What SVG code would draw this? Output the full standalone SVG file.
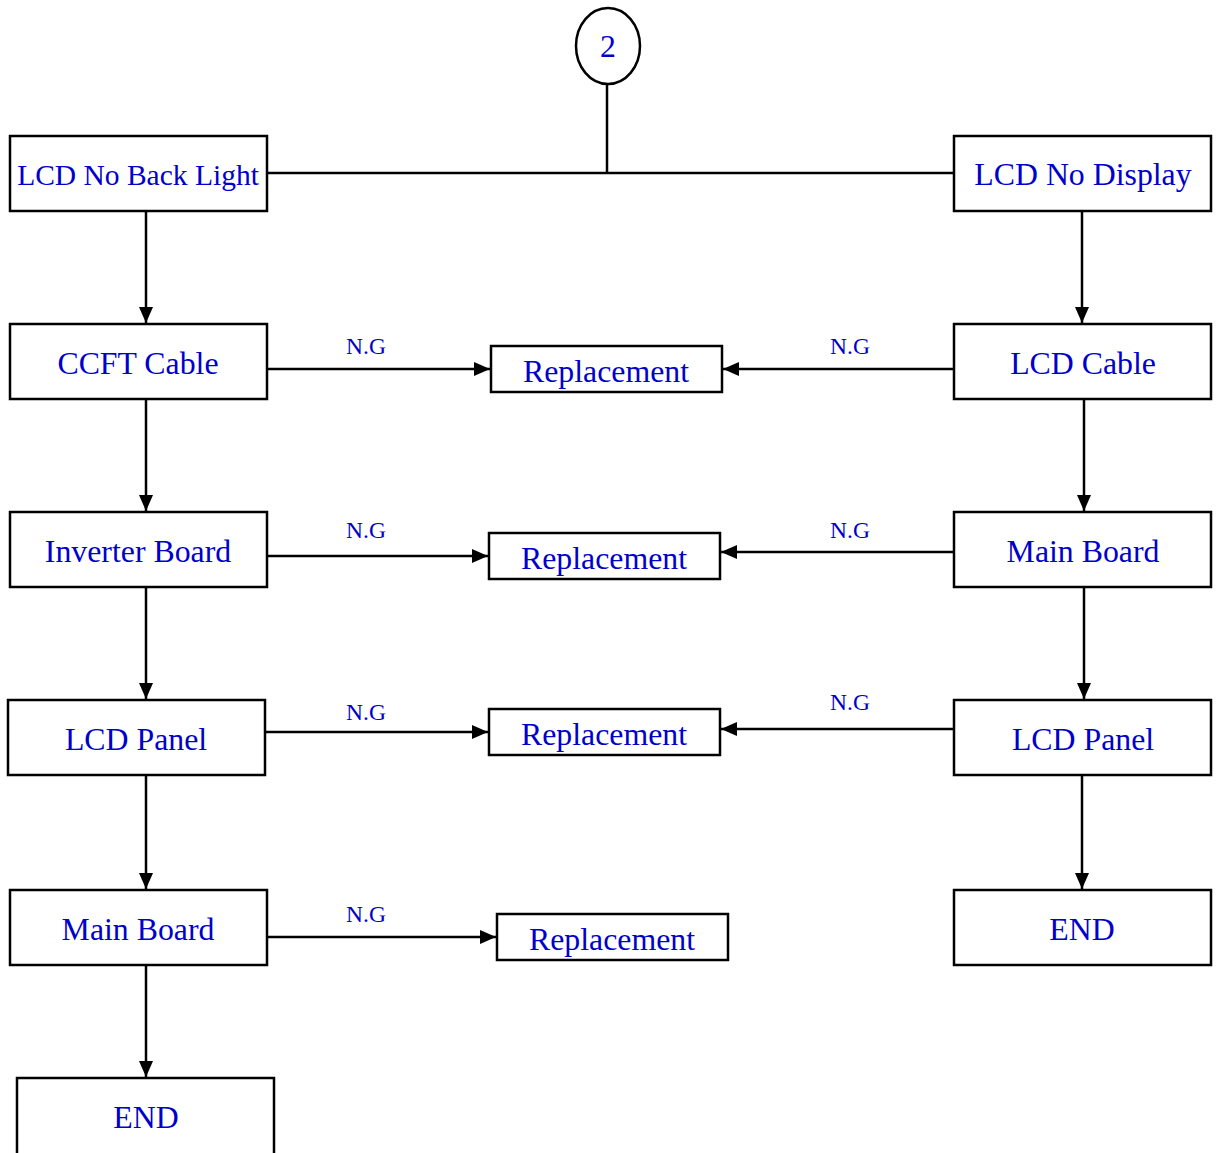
<svg xmlns="http://www.w3.org/2000/svg" width="1217" height="1153" viewBox="0 0 1217 1153">
<style>
.box{fill:#fff;stroke:#000;stroke-width:2.5}
.t{font-family:"Liberation Serif","Times New Roman",serif;font-size:31.8px;fill:#0000cc;text-anchor:middle}
.ng{font-family:"Liberation Serif","Times New Roman",serif;font-size:23.5px;fill:#0000cc;text-anchor:middle}
.c{stroke:#000;stroke-width:2.5;fill:none}
</style>
<defs>
<marker id="ah" markerUnits="userSpaceOnUse" markerWidth="16" markerHeight="14" viewBox="0 0 16 14" refX="16" refY="7" orient="auto">
<path d="M0,0 L16,7 L0,14 Z" fill="#000"/>
</marker>
</defs>
<rect width="1217" height="1153" fill="#fff"/>
<g id="connectors">
<line class="c" x1="607" y1="84" x2="607" y2="173"/>
<line class="c" x1="267" y1="173" x2="954" y2="173"/>
<line class="c" x1="146" y1="211" x2="146" y2="323" marker-end="url(#ah)"/>
<line class="c" x1="146" y1="399" x2="146" y2="511" marker-end="url(#ah)"/>
<line class="c" x1="146" y1="587" x2="146" y2="699" marker-end="url(#ah)"/>
<line class="c" x1="146" y1="775" x2="146" y2="889" marker-end="url(#ah)"/>
<line class="c" x1="146" y1="965" x2="146" y2="1077" marker-end="url(#ah)"/>
<line class="c" x1="1082" y1="211" x2="1082" y2="323" marker-end="url(#ah)"/>
<line class="c" x1="1084" y1="399" x2="1084" y2="511" marker-end="url(#ah)"/>
<line class="c" x1="1084" y1="587" x2="1084" y2="699" marker-end="url(#ah)"/>
<line class="c" x1="1082" y1="775" x2="1082" y2="889" marker-end="url(#ah)"/>
<line class="c" x1="267" y1="369" x2="490" y2="369" marker-end="url(#ah)"/>
<line class="c" x1="954" y1="369" x2="723" y2="369" marker-end="url(#ah)"/>
<line class="c" x1="267" y1="556" x2="488" y2="556" marker-end="url(#ah)"/>
<line class="c" x1="954" y1="552" x2="721" y2="552" marker-end="url(#ah)"/>
<line class="c" x1="265" y1="732" x2="488" y2="732" marker-end="url(#ah)"/>
<line class="c" x1="954" y1="729" x2="721" y2="729" marker-end="url(#ah)"/>
<line class="c" x1="267" y1="937" x2="496" y2="937" marker-end="url(#ah)"/>
<text class="ng" x="366" y="354">N.G</text>
<text class="ng" x="850" y="354">N.G</text>
<text class="ng" x="366" y="538">N.G</text>
<text class="ng" x="850" y="538">N.G</text>
<text class="ng" x="366" y="720">N.G</text>
<text class="ng" x="850" y="710">N.G</text>
<text class="ng" x="366" y="922">N.G</text>
</g>
<g id="start">
<ellipse cx="608" cy="46" rx="32" ry="38" fill="#fff" stroke="#000" stroke-width="2.5"/>
<text class="t" x="608" y="57">2</text>
</g>
<g id="lcd-no-back-light">
<rect class="box" x="10" y="136" width="257" height="75"/>
<text class="t" x="138" y="185" style="font-size:29.5px">LCD No Back Light</text>
</g>
<g id="lcd-no-display">
<rect class="box" x="954" y="136" width="257" height="75"/>
<text class="t" x="1083" y="185">LCD No Display</text>
</g>
<g id="ccft-cable">
<rect class="box" x="10" y="324" width="257" height="75"/>
<text class="t" x="138" y="374">CCFT Cable</text>
</g>
<g id="lcd-cable">
<rect class="box" x="954" y="324" width="257" height="75"/>
<text class="t" x="1083" y="374">LCD Cable</text>
</g>
<g id="replacement-1">
<rect class="box" x="491" y="346" width="231" height="46"/>
<text class="t" x="606" y="382">Replacement</text>
</g>
<g id="inverter-board">
<rect class="box" x="10" y="512" width="257" height="75"/>
<text class="t" x="138" y="562">Inverter Board</text>
</g>
<g id="main-board-right">
<rect class="box" x="954" y="512" width="257" height="75"/>
<text class="t" x="1083" y="562">Main Board</text>
</g>
<g id="replacement-2">
<rect class="box" x="489" y="533" width="231" height="46"/>
<text class="t" x="604" y="569">Replacement</text>
</g>
<g id="lcd-panel-left">
<rect class="box" x="8" y="700" width="257" height="75"/>
<text class="t" x="136" y="750">LCD Panel</text>
</g>
<g id="lcd-panel-right">
<rect class="box" x="954" y="700" width="257" height="75"/>
<text class="t" x="1083" y="750">LCD Panel</text>
</g>
<g id="replacement-3">
<rect class="box" x="489" y="709" width="231" height="46"/>
<text class="t" x="604" y="745">Replacement</text>
</g>
<g id="main-board-left">
<rect class="box" x="10" y="890" width="257" height="75"/>
<text class="t" x="138" y="940">Main Board</text>
</g>
<g id="end-right">
<rect class="box" x="954" y="890" width="257" height="75"/>
<text class="t" x="1082" y="940">END</text>
</g>
<g id="replacement-4">
<rect class="box" x="497" y="914" width="231" height="46"/>
<text class="t" x="612" y="950">Replacement</text>
</g>
<g id="end-left">
<rect class="box" x="17" y="1078" width="257" height="80"/>
<text class="t" x="146" y="1128">END</text>
</g>
</svg>
